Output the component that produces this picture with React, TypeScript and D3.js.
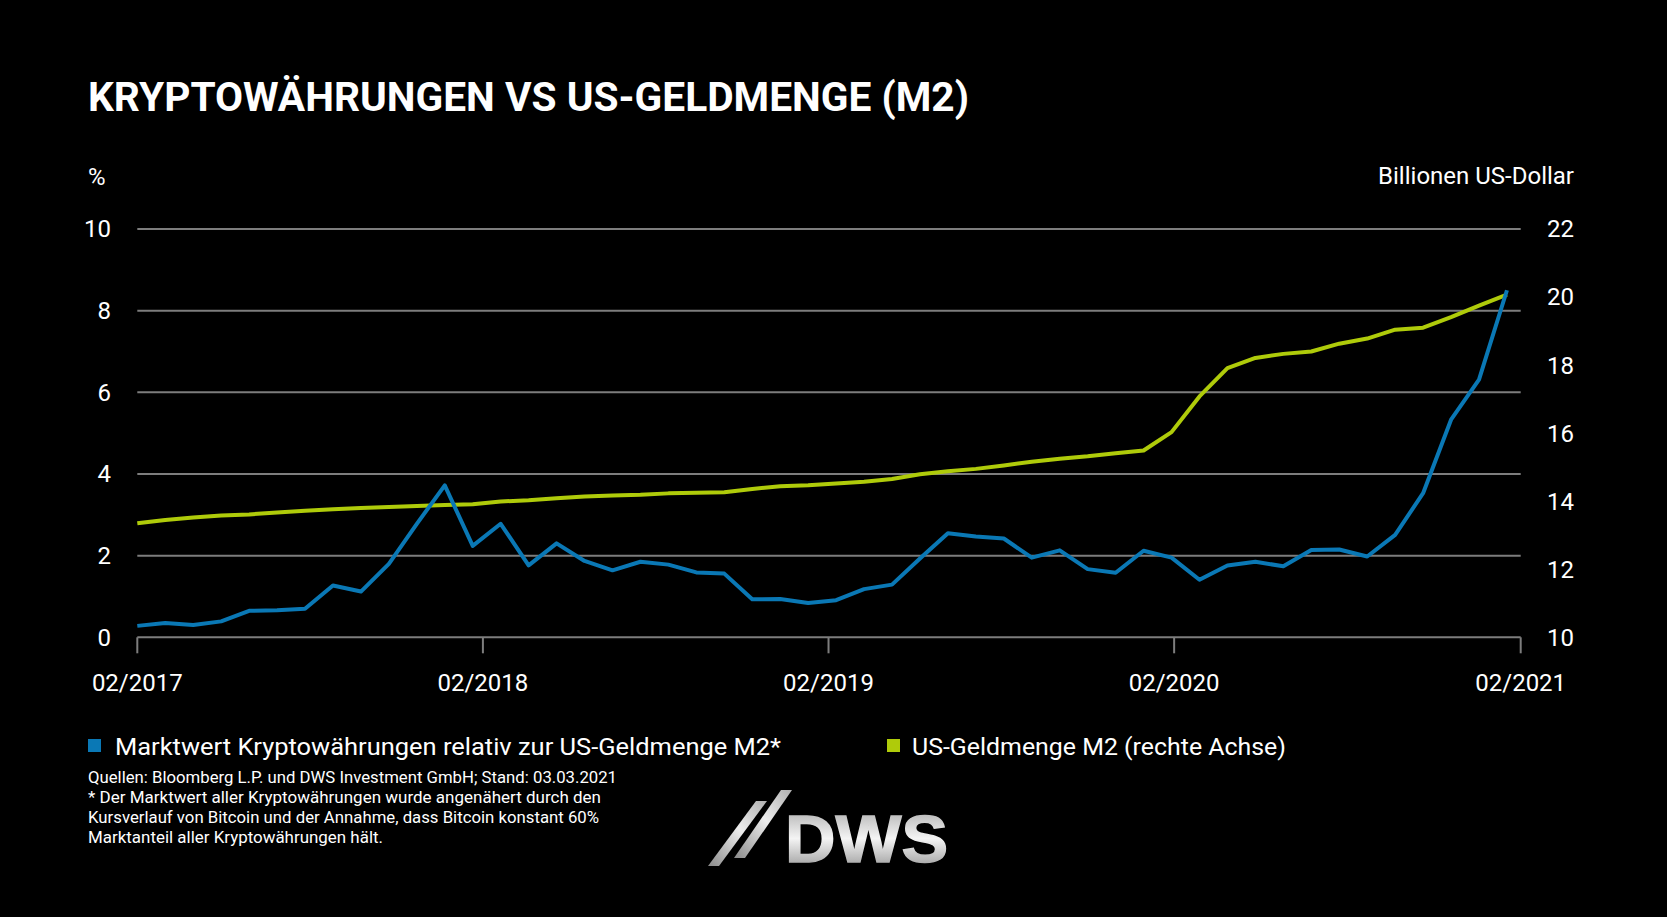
import * as d3 from "d3";

// Marktwert Kryptowährungen relativ zur US-Geldmenge M2 (%), linke Achse
const cryptoShare = [
  0.28, 0.35, 0.3, 0.39, 0.65, 0.66, 0.7, 1.27, 1.12, 1.8, 2.78, 3.72, 2.24,
  2.78, 1.76, 2.3, 1.87, 1.64, 1.85, 1.78, 1.59, 1.56, 0.93, 0.94, 0.84, 0.91,
  1.18, 1.29, 1.93, 2.55, 2.47, 2.42, 1.95, 2.13, 1.67, 1.58, 2.12, 1.95, 1.41,
  1.76, 1.85, 1.74, 2.14, 2.15, 1.98, 2.51, 3.53, 5.33, 6.31, 8.5,
];

// US-Geldmenge M2 (Billionen US-Dollar), rechte Achse
const m2 = [
  13.35, 13.45, 13.52, 13.58, 13.61, 13.67, 13.72, 13.76, 13.8, 13.83, 13.86,
  13.89, 13.91, 13.99, 14.03, 14.09, 14.14, 14.17, 14.19, 14.23, 14.25, 14.26,
  14.36, 14.44, 14.47, 14.52, 14.57, 14.65, 14.79, 14.88, 14.95, 15.05, 15.16,
  15.25, 15.32, 15.41, 15.49, 16.03, 17.08, 17.91, 18.21, 18.33, 18.4, 18.63,
  18.78, 19.04, 19.1, 19.41, 19.75, 20.07,
];

const xTicks = ["2017-02-01", "2018-02-01", "2019-02-01", "2020-02-01", "2021-02-01"];
const leftTicks = [0, 2, 4, 6, 8, 10];
const rightTicks = [10, 12, 14, 16, 18, 20, 22];

const title = "KRYPTOWÄHRUNGEN VS US-GELDMENGE (M2)";
const legendItems = [
  "Marktwert Kryptowährungen relativ zur US-Geldmenge M2*",
  "US-Geldmenge M2 (rechte Achse)",
];
const notes = [
  "Quellen: Bloomberg L.P. und DWS Investment GmbH; Stand: 03.03.2021",
  "* Der Marktwert aller Kryptowährungen wurde angenähert durch den",
  "Kursverlauf von Bitcoin und der Annahme, dass Bitcoin konstant 60%",
  "Marktanteil aller Kryptowährungen hält.",
];
const noteWidths = [529, 513, 511, 295];

const BLUE = "#0a78b5";
const GREEN = "#afcb0a";
const GRID = "#7d7d7d";
const FONT = "Roboto, 'Noto Sans', sans-serif";

const width = 1667;
const height = 917;
const marginLeft = 137.3;
const plotRight = 1520.7;
const plotTop = 229;
const plotBottom = 637.3;

export default function App() {
  const parse = d3.timeParse("%Y-%m-%d");
  const tickDates = xTicks.map((d) => parse(d)!);
  const x = d3.scaleTime(
    [tickDates[0], tickDates[tickDates.length - 1]],
    [marginLeft, plotRight],
  );
  // observations are roughly every 29.5 days starting 02/2017
  const stepMs = 29.52 * 24 * 3600 * 1000;
  const dates = cryptoShare.map((_, i) => new Date(tickDates[0].getTime() + i * stepMs));

  const yLeft = d3.scaleLinear([0, 10], [plotBottom, plotTop]);
  const yRight = d3.scaleLinear([10, 22], [plotBottom, plotTop]);
  const fmt = d3.timeFormat("%m/%Y");

  const lineLeft = d3
    .line<number>()
    .x((_, i) => x(dates[i]))
    .y((d) => yLeft(d));
  const lineRight = d3
    .line<number>()
    .x((_, i) => x(dates[i]))
    .y((d) => yRight(d));

  return (
    <>
      <style>{`body{margin:0;background:#000}`}</style>
      <svg width={width} height={height} style={{ display: "block", background: "#000" }} fontFamily={FONT}>
        <defs>
          <linearGradient id="silver" x1="0" y1="0" x2="0" y2="1">
            <stop offset="0" stopColor="#a0a0a0" />
            <stop offset="0.5" stopColor="#f4f4f4" />
            <stop offset="1" stopColor="#888" />
          </linearGradient>
          <linearGradient id="silverSlash" x1="0" y1="1" x2="1" y2="0">
            <stop offset="0" stopColor="#8a8a8a" />
            <stop offset="0.55" stopColor="#ededed" />
            <stop offset="1" stopColor="#b0b0b0" />
          </linearGradient>
        </defs>

        <text x={88} y={111} fill="#fff" fontSize={41} fontWeight={700} textLength={881} lengthAdjust="spacingAndGlyphs">
          {title}
        </text>

        <text x={88} y={185} fill="#fff" fontSize={24}>%</text>
        <text x={1574} y={184} fill="#fff" fontSize={24} textAnchor="end">Billionen US-Dollar</text>

        {/* grid */}
        {leftTicks.map((t) => (
          <g key={"l" + t}>
            <line x1={marginLeft} x2={plotRight} y1={yLeft(t)} y2={yLeft(t)} stroke={GRID} strokeWidth={2} />
            <text x={111} y={yLeft(t)} dy="0.35em" fill="#fff" fontSize={24} textAnchor="end">{t}</text>
          </g>
        ))}
        {rightTicks.map((t) => (
          <text key={"r" + t} x={1574} y={yRight(t)} dy="0.35em" fill="#fff" fontSize={24} textAnchor="end">{t}</text>
        ))}

        {/* x axis ticks */}
        {tickDates.map((d) => (
          <g key={d.toISOString()}>
            <line x1={x(d)} x2={x(d)} y1={plotBottom} y2={plotBottom + 16} stroke={GRID} strokeWidth={2} />
            <text x={x(d)} y={691} fill="#fff" fontSize={24} textAnchor="middle">{fmt(d)}</text>
          </g>
        ))}

        <path d={lineRight(m2)!} fill="none" stroke={GREEN} strokeWidth={4} strokeLinejoin="round" />
        <path d={lineLeft(cryptoShare)!} fill="none" stroke={BLUE} strokeWidth={4} strokeLinejoin="round" />

        {/* legend */}
        <rect x={88} y={739} width={13} height={13} fill={BLUE} />
        <text x={115} y={755} fill="#fff" fontSize={24} textLength={666} lengthAdjust="spacingAndGlyphs">{legendItems[0]}</text>
        <rect x={887} y={739} width={13} height={13} fill={GREEN} />
        <text x={912} y={755} fill="#fff" fontSize={24} textLength={374} lengthAdjust="spacingAndGlyphs">{legendItems[1]}</text>

        {/* notes */}
        {notes.map((n, i) => (
          <text key={i} x={88} y={783 + i * 20} fill="#fff" fontSize={16.5} textLength={noteWidths[i]} lengthAdjust="spacingAndGlyphs">{n}</text>
        ))}

        {/* logo */}
        <polygon points="708,866 719,866 767,801 756,801" fill="url(#silverSlash)" />
        <polygon points="734,858 745,858 792,790 781,790" fill="url(#silverSlash)" />
        <text x={785} y={862} fill="url(#silver)" stroke="url(#silver)" strokeWidth={1.5} fontSize={67} fontWeight={700} fontFamily="'Liberation Sans', Arial, sans-serif" textLength={163} lengthAdjust="spacingAndGlyphs">DWS</text>
      </svg>
    </>
  );
}
